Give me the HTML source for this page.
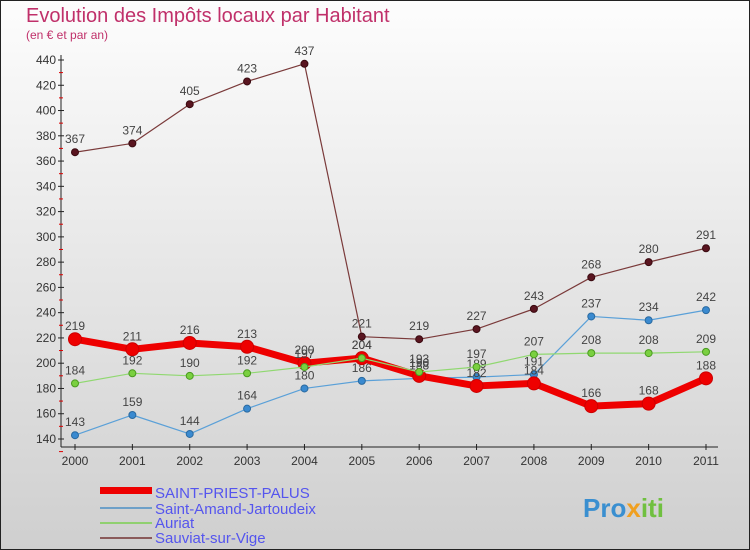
<!DOCTYPE html>
<html><head><meta charset="utf-8"><style>
body{margin:0;width:750px;height:550px;overflow:hidden}
svg{display:block;font-family:"Liberation Sans",sans-serif}
</style></head><body>
<svg id="c" width="750" height="550">
<defs><linearGradient id="bg" x1="0" y1="0" x2="0" y2="1"><stop offset="0" stop-color="#fdfdfd"/><stop offset="1" stop-color="#cfcfcf"/></linearGradient></defs>
<rect x="0.5" y="0.5" width="749" height="549" fill="url(#bg)" stroke="#222"/>
<text x="26" y="22" font-size="20" fill="#c0306a">Evolution des Impôts locaux par Habitant</text>
<text x="26" y="39" font-size="12" fill="#c0306a">(en € et par an)</text>
<g id="axes"></g><g id="series"></g>
<g>
<rect x="100" y="487" width="52" height="7" fill="#e00"/>
<text x="155" y="498" font-size="15" fill="#5555ee">SAINT-PRIEST-PALUS</text>
<rect x="100" y="507" width="52" height="2" fill="#6ea0c8"/>
<text x="155" y="514" font-size="15" fill="#5555ee">Saint-Amand-Jartoudeix</text>
<rect x="100" y="522" width="52" height="2" fill="#90d070"/>
<text x="155" y="528" font-size="15" fill="#5555ee">Auriat</text>
<rect x="100" y="537" width="52" height="2" fill="#8a5a5a"/>
<text x="155" y="543" font-size="15" fill="#5555ee">Sauviat-sur-Vige</text>
</g>
<text x="583" y="517" font-size="26" font-weight="bold" fill="#3a8fd0">Pro<tspan fill="#f0a020">x</tspan><tspan fill="#70c040">iti</tspan></text>
</svg>
<script>
const years=[2000,2001,2002,2003,2004,2005,2006,2007,2008,2009,2010,2011];
const yTicks=[140,160,180,200,220,240,260,280,300,320,340,360,380,400,420,440];
const spp=[219,211,216,213,200,204,190,182,184,166,168,188];
const amand=[143,159,144,164,180,186,188,189,191,237,234,242];
const auriat=[184,192,190,192,197,204,193,197,207,208,208,209];
const sauviat=[367,374,405,423,437,221,219,227,243,268,280,291];
const NS="http://www.w3.org/2000/svg";
const X=i=>75+i*(706-75)/(years.length-1);
const Y=v=>439-(v-140)*(439-60)/300;
function mk(t,a,p){const e=document.createElementNS(NS,t);for(const k in a)e.setAttribute(k,a[k]);p.appendChild(e);return e;}
const ax=document.getElementById('axes'),sg=document.getElementById('series');
const l1=mk('line',{x1:61,y1:55,x2:61,y2:447,stroke:'#222'},ax);


const l2=mk('line',{x1:61,y1:447,x2:718,y2:447,stroke:'#222'},ax);


yTicks.forEach(v=>{const y=Y(v);mk('line',{x1:58,y1:y,x2:64,y2:y,stroke:'#222'},ax);
mk('line',{x1:59,y1:y+12.6,x2:63,y2:y+12.6,stroke:'#d00'},ax);
const t=mk('text',{x:56,y:y+4,'font-size':12,'text-anchor':'end',fill:'#333'},ax);t.textContent=v;

});
years.forEach((yr,i)=>{const x=X(i);mk('line',{x1:x,y1:444,x2:x,y2:450,stroke:'#222'},ax);
const t=mk('text',{x:x,y:465,'font-size':12,'text-anchor':'middle',fill:'#333'},ax);t.textContent=yr;

});
function series(d,name,col,w,r,dot,dotStroke){const g=mk('g',{},sg);


mk('polyline',{points:d.map((v,i)=>X(i)+','+Y(v)).join(' '),fill:'none',stroke:col,'stroke-width':w,'stroke-linejoin':'round'},g);
d.forEach((v,i)=>{const c=mk('circle',{cx:X(i),cy:Y(v),r:r,fill:dot,stroke:dotStroke,'stroke-width':1},g);


const t=mk('text',{x:X(i),y:Y(v)-9,'font-size':12,'text-anchor':'middle',fill:'#444'},g);t.textContent=v;

});}
series(sauviat,'sauviat','#7a3a3a',1.2,3.5,'#5a1520','#3a0a10');
series(amand,'saint-amand','#5aa0d8',1.2,3.5,'#3a8ad0','#2a6aa0');
series(spp,'saint-priest-palus','#ee0000',7,6.5,'#ee0000','#cc0000');
series(auriat,'auriat','#90d870',1.2,3.5,'#7ad040','#4a9a20');
</script>
</body></html>
